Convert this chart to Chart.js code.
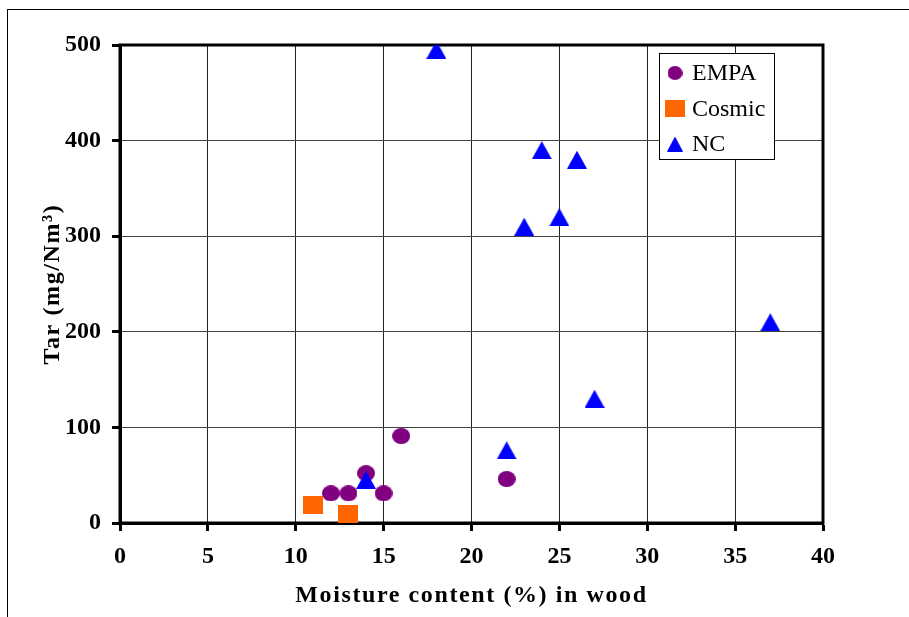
<!DOCTYPE html>
<html>
<head>
<meta charset="utf-8">
<script src="https://cdn.jsdelivr.net/npm/chart.js@4.4.0/dist/chart.umd.min.js"></script>
<style>
  body { margin: 0; background: #fff; }
  #wrap { position: relative; width: 909px; height: 617px; overflow: hidden; }
  #frame { position: absolute; left: 7px; top: 9px; width: 1000px; height: 1000px;
           border-left: 1px solid #000; border-top: 1px solid #000; }
  #chart { position: absolute; left: 0; top: 0; }
</style>
</head>
<body>
<div id="wrap">
  <div id="frame"></div>
  <canvas id="chart" width="909" height="617"></canvas>
</div>
<script>
// data
var seriesNames = ['EMPA', 'Cosmic', 'NC'];
var empaX = [12, 13, 14, 15, 16, 22];
var empaY = [31, 31, 52, 31, 91, 46];
var cosmicX = [11, 13];
var cosmicY = [19, 9];
var ncX = [14, 18, 22, 23, 24, 25, 26, 27, 37];
var ncY = [45, 495, 76, 310, 390, 320, 380, 130, 210];
var xTicks = [0, 5, 10, 15, 20, 25, 30, 35, 40];
var yTicks = [0, 100, 200, 300, 400, 500];

function pts(xs, ys) {
    return xs.map(function (x, i) { return { x: x, y: ys[i] }; });
}

// marker images, centred on the point like the spreadsheet markers
function marker(kind, w, h, color) {
    var c = document.createElement('canvas');
    c.width = w; c.height = h;
    var g = c.getContext('2d');
    g.fillStyle = color;
    g.beginPath();
    if (kind === 'circle') {
        g.ellipse(w / 2, h / 2, w / 2, h / 2, 0, 0, Math.PI * 2);
    } else if (kind === 'square') {
        g.rect(0, 0, w, h);
    } else {
        g.moveTo(w / 2, 0);
        g.lineTo(w, h);
        g.lineTo(0, h);
        g.closePath();
    }
    g.fill();
    return c;
}

var purple = '#800080', orange = '#FF6600', blue = '#0000FF';
var plotMarks = [marker('circle', 18, 16, purple), marker('square', 20, 18, orange), marker('triangle', 20, 18, blue)];
var legendMarks = [marker('circle', 15, 14, purple), marker('square', 20, 17, orange), marker('triangle', 16, 15, blue)];

var frameBox = {
    id: 'frameBox',
    beforeDatasetsDraw: function (chart) {
        var a = chart.chartArea, ctx = chart.ctx;
        ctx.save();
        ctx.strokeStyle = '#000';
        ctx.lineWidth = 3;
        ctx.strokeRect(a.left, a.top, a.right - a.left, a.bottom - a.top);
        ctx.restore();
    }
};

// axis titles in the picture are a little spaced out
var spacedTitles = {
    id: 'spacedTitles',
    beforeDraw: function (chart) {
        ['x', 'y'].forEach(function (id) {
            var s = chart.scales[id];
            if (s._spaced) return;
            var orig = s.drawTitle;
            s.drawTitle = function () {
                chart.ctx.letterSpacing = '1.6px';
                orig.apply(this, arguments);
                chart.ctx.letterSpacing = '0px';
            };
            s._spaced = true;
        });
    }
};

var legendBox = {
    id: 'legendBox',
    afterDatasetsDraw: function (chart) {
        var a = chart.chartArea, ctx = chart.ctx;
        var x = a.right - 164, y = a.top + 8, w = 115, h = 106;
        ctx.save();
        ctx.fillStyle = '#fff';
        ctx.fillRect(x, y, w, h);
        ctx.strokeStyle = '#000';
        ctx.lineWidth = 1;
        ctx.strokeRect(x + 0.5, y + 0.5, w, h);
        ctx.font = '24px "Liberation Serif"';
        ctx.textBaseline = 'middle';
        ctx.fillStyle = '#000';
        chart.data.datasets.forEach(function (ds, i) {
            var cy = y + 20 + i * 35.5;
            var m = legendMarks[i];
            ctx.drawImage(m, x + 16 - m.width / 2, cy - m.height / 2);
            ctx.fillText(ds.label, x + 33, cy + 1);
        });
        ctx.restore();
    }
};

var ctx1 = document.getElementById('chart').getContext('2d');
var chart1 = new Chart(ctx1, {
    type: 'scatter',
    data: {
        datasets: [{
            label: seriesNames[0],
            data: pts(empaX, empaY),
            pointStyle: plotMarks[0],
            pointRadius: 9,
            backgroundColor: purple,
            order: 2
        }, {
            label: seriesNames[1],
            data: pts(cosmicX, cosmicY),
            pointStyle: plotMarks[1],
            pointRadius: 9,
            backgroundColor: orange,
            order: 1
        }, {
            label: seriesNames[2],
            data: pts(ncX, ncY),
            pointStyle: plotMarks[2],
            pointRadius: 9,
            backgroundColor: blue,
            order: 0
        }]
    },
    options: {
        responsive: false,
        animation: false,
        devicePixelRatio: 1,
        layout: { padding: { top: 45, right: 86, left: 0, bottom: 0 } },
        plugins: {
            legend: { display: false },
            tooltip: { enabled: false }
        },
        scales: {
            x: {
                type: 'linear',
                min: 0,
                max: 40,
                afterBuildTicks: function (s) { s.ticks = xTicks.map(function (v) { return { value: v }; }); },
                afterFit: function (s) { s.height = 94; },
                ticks: {
                    color: '#000',
                    padding: 11,
                    font: { family: 'Liberation Serif', size: 24, weight: 'bold' }
                },
                grid: { color: '#222', lineWidth: 1, tickColor: '#000', tickWidth: 3, tickLength: 8 },
                border: { display: true, color: '#000', width: 3 },
                title: {
                    display: true,
                    text: 'Moisture content (%) in wood',
                    color: '#000',
                    padding: { top: 0, bottom: 7 },
                    font: { family: 'Liberation Serif', size: 24, weight: 'bold' }
                }
            },
            y: {
                type: 'linear',
                min: 0,
                max: 500,
                afterBuildTicks: function (s) { s.ticks = yTicks.map(function (v) { return { value: v }; }); },
                afterFit: function (s) { s.width = 120; },
                ticks: {
                    color: '#000',
                    padding: 11,
                    font: { family: 'Liberation Serif', size: 24, weight: 'bold' }
                },
                grid: { color: '#444', lineWidth: 1, tickColor: '#000', tickWidth: 3, tickLength: 8 },
                border: { display: true, color: '#000', width: 3 },
                title: {
                    display: true,
                    text: 'Tar (mg/Nm³)',
                    color: '#000',
                    padding: { top: 38, bottom: 0 },
                    font: { family: 'Liberation Serif', size: 24, weight: 'bold' }
                }
            }
        }
    },
    plugins: [spacedTitles, frameBox, legendBox]
});
</script>
</body>
</html>
